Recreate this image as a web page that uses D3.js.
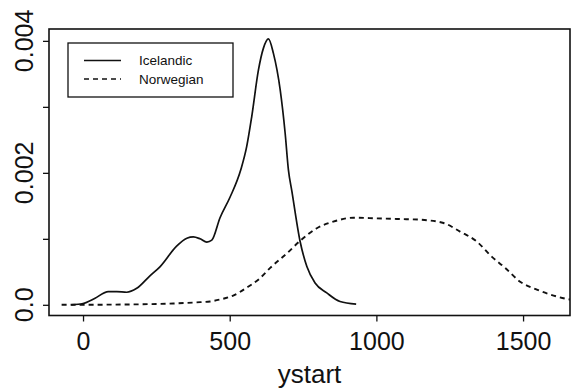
<!DOCTYPE html>
<html>
<head>
<meta charset="utf-8">
<script src="https://cdn.jsdelivr.net/npm/d3@7"></script>
<style>
  html, body { margin: 0; padding: 0; background: #fff; }
  svg { display: block; }
  text { font-family: "Liberation Sans", Arial, Helvetica, sans-serif; fill: #111; }
</style>
</head>
<body>
<svg id="chart" width="571" height="391"></svg>
<script>
// ---- data ----
const icelandicX = [-40, 0, 41, 86, 115, 149, 183, 228, 263, 319, 354, 376, 399, 422, 439, 467, 501, 538, 558, 575, 598, 615, 632, 649, 672, 689, 700, 712, 740, 763, 791, 831, 876, 931];
const icelandicY = [0, 0.00002, 0.0001, 0.0002, 0.0002, 0.00019, 0.00025, 0.00044, 0.00058, 0.00089, 0.00101, 0.00103, 0.001, 0.00095, 0.00098, 0.00132, 0.00163, 0.00205, 0.0024, 0.00285, 0.00356, 0.00389, 0.00403, 0.00381, 0.00326, 0.0026, 0.00205, 0.00172, 0.00096, 0.00058, 0.00033, 0.00018, 0.00005, 0.00001];
const norwegianX = [-73, 100, 200, 308, 400, 433, 467, 512, 558, 600, 638, 695, 740, 797, 853, 922, 1001, 1080, 1149, 1229, 1285, 1342, 1393, 1439, 1490, 1547, 1604, 1660, 1700];
const norwegianY = [0, 0.000003, 0.000008, 0.00002, 0.00004, 0.00005, 0.00008, 0.00014, 0.00026, 0.00039, 0.00056, 0.00078, 0.00097, 0.00116, 0.00126, 0.00132, 0.00131, 0.0013, 0.00129, 0.00124, 0.00111, 0.00096, 0.00073, 0.00056, 0.00035, 0.00023, 0.00014, 0.00008, 0.00006];
const seriesNames = ["Icelandic", "Norwegian"];
const xTicks = [0, 500, 1000, 1500];
const xTickLabels = ["0", "500", "1000", "1500"];
const yTicks = [0, 0.001, 0.002, 0.003, 0.004];
const yTickLabels = ["0.0", "", "0.002", "", "0.004"];
const xLabel = "ystart";

// ---- layout ----
const svg = d3.select("#chart");
const L = 49, R = 570, T = 29, B = 315.5;
const x = d3.scaleLinear().domain([-116, 1660]).range([L, R]);
const y = d3.scaleLinear().domain([-0.000162, 0.00418]).range([B, T]);

// clip
svg.append("defs").append("clipPath").attr("id", "clip")
  .append("rect").attr("x", L).attr("y", T).attr("width", R - L).attr("height", B - T);

// axes
const xAxis = d3.axisBottom(x).tickValues(xTicks).tickSize(6).tickPadding(11)
  .tickFormat((d, i) => xTickLabels[i]);
const gx = svg.append("g").attr("transform", `translate(0,${B})`).call(xAxis);
gx.select(".domain").remove();
gx.selectAll("line").attr("stroke", "#111").attr("stroke-width", 1.3);
gx.selectAll("text").attr("font-size", 25).attr("fill", "#111")
  .attr("font-family", "Liberation Sans, Arial, sans-serif");

const yAxis = d3.axisLeft(y).tickValues(yTicks).tickSize(6).tickFormat("");
const gy = svg.append("g").attr("transform", `translate(${L},0)`).call(yAxis);
gy.select(".domain").remove();
gy.selectAll("line").attr("stroke", "#111").attr("stroke-width", 1.3);

svg.append("g").selectAll("text").data(yTicks.filter((d, i) => yTickLabels[i] !== ""))
  .join("text")
  .attr("transform", d => `translate(33,${y(d)}) rotate(-90)`)
  .attr("text-anchor", "middle")
  .attr("font-size", 25)
  .text(d => yTickLabels[yTicks.indexOf(d)]);

// x label
svg.append("text").attr("x", (L + R) / 2).attr("y", 383)
  .attr("text-anchor", "middle").attr("font-size", 26).text(xLabel);

// frame
svg.append("rect").attr("x", L).attr("y", T).attr("width", R - L).attr("height", B - T)
  .attr("fill", "none").attr("stroke", "#111").attr("stroke-width", 1.6);

// lines
const line = d3.line().x(d => x(d[0])).y(d => y(d[1])).curve(d3.curveMonotoneX);
const ice = icelandicX.map((v, i) => [v, icelandicY[i]]);
const nor = norwegianX.map((v, i) => [v, norwegianY[i]]);
const plot = svg.append("g").attr("clip-path", "url(#clip)");
plot.append("path").datum(ice).attr("d", line).attr("fill", "none")
  .attr("stroke", "#111").attr("stroke-width", 1.7);
plot.append("path").datum(nor).attr("d", line).attr("fill", "none")
  .attr("stroke", "#111").attr("stroke-width", 1.9).attr("stroke-dasharray", "5,4");

// legend
const lg = svg.append("g");
lg.append("rect").attr("x", 68).attr("y", 43).attr("width", 165).attr("height", 54)
  .attr("fill", "#fff").attr("stroke", "#111").attr("stroke-width", 1.3);
const rows = [{ name: seriesNames[0], dash: null, yy: 60.5 }, { name: seriesNames[1], dash: "5,4", yy: 79 }];
rows.forEach(r => {
  lg.append("line").attr("x1", 84).attr("x2", 121).attr("y1", r.yy).attr("y2", r.yy)
    .attr("stroke", "#111").attr("stroke-width", 1.6)
    .attr("stroke-dasharray", r.dash);
  lg.append("text").attr("x", 139).attr("y", r.yy).attr("dy", "0.35em")
    .attr("font-size", 13.5).text(r.name);
});
</script>
</body>
</html>
